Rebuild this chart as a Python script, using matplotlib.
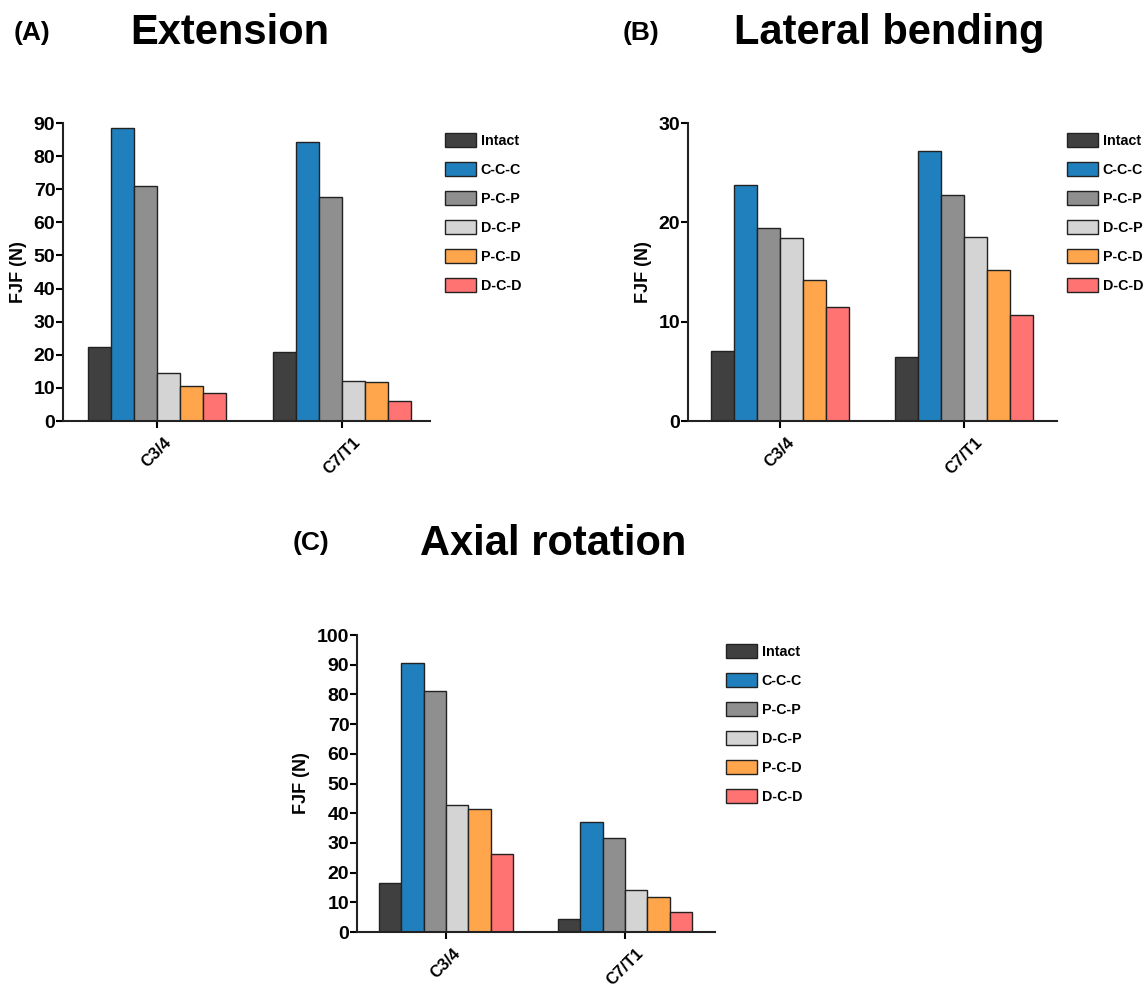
import matplotlib
matplotlib.use('Agg')
import matplotlib.pyplot as plt
import matplotlib.transforms as mtransforms
import numpy as np

plt.rcParams['font.family'] = ['Liberation Sans', 'DejaVu Sans']
plt.rcParams['font.weight'] = 'bold'

groups = ['C3/4', 'C7/T1']
series = ['Intact', 'C-C-C', 'P-C-P', 'D-C-P', 'P-C-D', 'D-C-D']
colors = ['#404040', '#2080bd', '#8f8f8f', '#d4d4d4', '#ffa64d', '#ff7373']

# FJF values, rows = series, cols = groups
extension = [[22.4, 20.8], [88.4, 84.3], [71.1, 67.6], [14.6, 12.2], [10.7, 11.8], [8.4, 6.0]]
lateral = [[7.0, 6.4], [23.8, 27.2], [19.4, 22.8], [18.4, 18.5], [14.2, 15.2], [11.5, 10.7]]
axial = [[16.5, 4.5], [90.5, 36.9], [81.1, 31.5], [42.7, 14.1], [41.4, 11.9], [26.1, 6.6]]

W, H = 1145, 988
fig = plt.figure(figsize=(W / 100, H / 100), dpi=100)


def px_axes(l, r, t, b):
    return fig.add_axes([l / W, 1 - b / H, (r - l) / W, (b - t) / H])


def panel(ax, data, ymax, step, leg_xy, xlim):
    x = np.arange(len(groups))
    w = 0.125
    for i, s in enumerate(series):
        ax.bar(x + (i - 2.5) * w, data[i], w, color=colors[i], edgecolor='#222222',
               linewidth=1.0, label=s)
    ax.set_xlim(*xlim)
    ax.set_ylim(0, ymax)
    ax.set_yticks(np.arange(0, ymax + 0.1, step))
    ax.set_xticks(x)
    ax.set_xticklabels(groups, rotation=45, fontsize=12, fontweight='bold',
                       ha='center')
    shift = mtransforms.ScaledTranslation(-3 / 100, -2 / 100, fig.dpi_scale_trans)
    for lab in ax.get_xticklabels():
        lab.set_transform(lab.get_transform() + shift)
    for lab in ax.get_yticklabels():
        lab.set_fontweight('bold')
        lab.set_fontsize(14)
    ax.set_ylabel('FJF (N)', fontsize=13, fontweight='bold', labelpad=5)
    for sp in ['top', 'right']:
        ax.spines[sp].set_visible(False)
    for sp in ['left', 'bottom']:
        ax.spines[sp].set_linewidth(1.5)
        ax.spines[sp].set_color('#222222')
    ax.tick_params(axis='y', length=5, width=1.5, pad=0.5)
    ax.tick_params(axis='x', length=5, width=1.5, pad=5)
    ax.legend(loc='upper left', bbox_to_anchor=(leg_xy[0] / W, 1 - leg_xy[1] / H),
              bbox_transform=fig.transFigure, frameon=False, borderpad=0,
              borderaxespad=0, handlelength=2.2, handleheight=1.1, handletextpad=0.3,
              labelspacing=1.0, prop={'size': 10.3, 'weight': 'bold'})


axA = px_axes(63, 430, 123, 421)
panel(axA, extension, 90, 10, (445, 133), (-0.508, 1.476))
axB = px_axes(688, 1057, 123, 421)
panel(axB, lateral, 30, 10, (1067, 133), (-0.5, 1.505))
axC = px_axes(357, 715, 635, 932)
panel(axC, axial, 100, 10, (726, 644), (-0.497, 1.503))

fig.text(14 / W, 1 - 40 / H, '(A)', fontsize=19, fontweight='bold', va='baseline')
fig.text(230 / W, 1 - 44 / H, 'Extension', fontsize=30, fontweight='bold', va='baseline', ha='center')
fig.text(623 / W, 1 - 40 / H, '(B)', fontsize=19, fontweight='bold', va='baseline')
fig.text(889 / W, 1 - 44 / H, 'Lateral bending', fontsize=30, fontweight='bold', va='baseline', ha='center')
fig.text(293 / W, 1 - 550 / H, '(C)', fontsize=19, fontweight='bold', va='baseline')
fig.text(553 / W, 1 - 555 / H, 'Axial rotation', fontsize=30, fontweight='bold', va='baseline', ha='center')

fig.savefig('out.png', dpi=100)
